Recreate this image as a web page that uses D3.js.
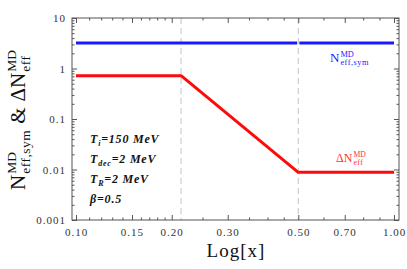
<!DOCTYPE html>
<html>
<head>
<meta charset="utf-8">
<script src="https://cdn.jsdelivr.net/npm/d3@7"></script>
<style>
  body { margin: 0; background: #fff; }
  svg text { font-family: "Liberation Serif"; }
</style>
</head>
<body>
<div id="chart"></div>
<script>
// data
const xTicks = [0.1, 0.15, 0.2, 0.3, 0.5, 0.7, 1.0];
const xTickLabels = ["0.10", "0.15", "0.20", "0.30", "0.50", "0.70", "1.00"];
const xMinor = [0.11, 0.12, 0.13, 0.14, 0.16, 0.17, 0.18, 0.19, 0.25, 0.35, 0.4, 0.45, 0.6, 0.8, 0.9];
const yTicks = [0.001, 0.01, 0.1, 1, 10];
const yTickLabels = ["0.001", "0.01", "0.1", "1", "10"];
const dashedX = [0.214, 0.5];

// N_eff,sym (drawn in two pieces, there is a small gap at x = 0.5)
const symA = [[0.1, 3.2], [0.496, 3.2]];
const symB = [[0.504, 3.2], [1.0, 3.2]];
// Delta N_eff
const deltaN = [[0.1, 0.72], [0.214, 0.72], [0.5, 0.0088], [1.0, 0.0088]];

const params = [
  { base: "T", sub: "i", rest: "=150 MeV" },
  { base: "T", sub: "dec", rest: "=2 MeV" },
  { base: "T", sub: "R", rest: "=2 MeV" },
  { base: "β=0.5", sub: "", rest: "" }
];

const serif = "Liberation Serif";
const width = 407;
const height = 269;
const frame = { left: 72, right: 399, top: 18, bottom: 220 };

const svg = d3.select("#chart").append("svg")
  .attr("width", width)
  .attr("height", height)
  .attr("font-family", serif);

const x = d3.scaleLog().domain([0.1, 1]).range([76, 394]);
const y = d3.scaleLog().domain([0.001, 10]).range([frame.bottom, frame.top]);

// minor y ticks: 2..9 in each decade
const yMinor = [];
[0.001, 0.01, 0.1, 1].forEach(d => {
  for (let k = 2; k <= 9; k++) yMinor.push(d * k);
});

const tickColor = "#555";

function styleAxis(g) {
  g.attr("font-family", serif);
  g.select(".domain").remove();
  g.selectAll("line").attr("stroke", tickColor);
  g.selectAll("text")
    .attr("fill", "#333")
    .attr("font-family", serif)
    .style("font-size", "11px")
    .style("letter-spacing", "1px");
}

// dashed verticals
svg.selectAll("line.dash")
  .data(dashedX)
  .join("line")
  .attr("class", "dash")
  .attr("x1", d => x(d))
  .attr("x2", d => x(d))
  .attr("y1", frame.top)
  .attr("y2", frame.bottom)
  .attr("stroke", "#c4c4c4")
  .attr("stroke-width", 1)
  .attr("stroke-dasharray", "6,4");

// major / minor ticks on all four sides
svg.append("g")
  .attr("transform", `translate(0,${frame.bottom})`)
  .call(d3.axisBottom(x).tickValues(xTicks).tickFormat((d, i) => xTickLabels[i]).tickSize(-5).tickPadding(8))
  .call(styleAxis);
svg.append("g")
  .attr("transform", `translate(0,${frame.bottom})`)
  .call(d3.axisBottom(x).tickValues(xMinor).tickFormat("").tickSize(-2.5))
  .call(styleAxis);
svg.append("g")
  .attr("transform", `translate(0,${frame.top})`)
  .call(d3.axisTop(x).tickValues(xTicks).tickFormat("").tickSize(-5))
  .call(styleAxis);
svg.append("g")
  .attr("transform", `translate(0,${frame.top})`)
  .call(d3.axisTop(x).tickValues(xMinor).tickFormat("").tickSize(-2.5))
  .call(styleAxis);

svg.append("g")
  .attr("transform", `translate(${frame.left},0)`)
  .call(d3.axisLeft(y).tickValues(yTicks).tickFormat((d, i) => yTickLabels[i]).tickSize(-5).tickPadding(6))
  .call(styleAxis);
svg.append("g")
  .attr("transform", `translate(${frame.left},0)`)
  .call(d3.axisLeft(y).tickValues(yMinor).tickFormat("").tickSize(-2.5))
  .call(styleAxis);
svg.append("g")
  .attr("transform", `translate(${frame.right},0)`)
  .call(d3.axisRight(y).tickValues(yTicks).tickFormat("").tickSize(-5))
  .call(styleAxis);
svg.append("g")
  .attr("transform", `translate(${frame.right},0)`)
  .call(d3.axisRight(y).tickValues(yMinor).tickFormat("").tickSize(-2.5))
  .call(styleAxis);

// frame
svg.append("rect")
  .attr("x", frame.left)
  .attr("y", frame.top)
  .attr("width", frame.right - frame.left)
  .attr("height", frame.bottom - frame.top)
  .attr("fill", "none")
  .attr("stroke", tickColor)
  .attr("stroke-width", 1);

const line = d3.line()
  .x(d => x(d[0]))
  .y(d => y(d[1]));

[symA, symB].forEach(seg => {
  svg.append("path")
    .datum(seg)
    .attr("fill", "none")
    .attr("stroke", "#1a1aff")
    .attr("stroke-width", 3)
    .attr("d", line);
});

svg.append("path")
  .datum(deltaN)
  .attr("fill", "none")
  .attr("stroke", "#ff0a0a")
  .attr("stroke-width", 3)
  .attr("stroke-linejoin", "round")
  .attr("d", line);

// base text with a superscript stacked over a subscript
function stackedLabel(g, x0, y0, base, sup, sub, size, color) {
  const t = g.append("text")
    .attr("x", x0).attr("y", y0)
    .attr("fill", color)
    .style("font-size", size + "px")
    .text(base);
  const w = t.node().getComputedTextLength();
  const small = size * 0.64;
  const s1 = g.append("text")
    .attr("x", x0 + w + 1).attr("y", y0 - size * 0.42)
    .attr("fill", color)
    .style("font-size", small + "px")
    .text(sup);
  const s2 = g.append("text")
    .attr("x", x0 + w + 1).attr("y", y0 + size * 0.22)
    .attr("fill", color)
    .style("font-size", small + "px")
    .style("letter-spacing", "0.5px")
    .text(sub);
  return x0 + w + 1 + Math.max(s1.node().getComputedTextLength(), s2.node().getComputedTextLength());
}

// curve labels
stackedLabel(svg.append("g"), 330, 62, "N", "MD", "eff,sym", 13, "#1a1aff");
stackedLabel(svg.append("g"), 336, 162, "ΔN", "MD", "eff", 12, "#ff3030");

// y axis title, rotated
const yt = svg.append("g");
const inner = yt.append("g");
let cx = stackedLabel(inner, 0, 0, "N", "MD", "eff,sym", 21, "#111");
const amp = inner.append("text")
  .attr("x", cx + 6).attr("y", 0)
  .attr("fill", "#111")
  .style("font-size", "21px")
  .text("&");
cx = cx + 6 + amp.node().getComputedTextLength() + 6;
cx = stackedLabel(inner, cx, 0, "ΔN", "MD", "eff", 21, "#111");
inner.attr("transform", `translate(${-cx / 2},0)`);
yt.attr("transform", "translate(25,120) rotate(-90)");

// x axis title
svg.append("text")
  .attr("x", 236)
  .attr("y", 257)
  .attr("text-anchor", "middle")
  .attr("fill", "#111")
  .style("font-size", "19px")
  .style("letter-spacing", "1px")
  .text("Log[x]");

// parameter box
params.forEach((p, i) => {
  const t = svg.append("text")
    .attr("x", 90)
    .attr("y", 143 + i * 20)
    .attr("fill", "#111")
    .style("font-size", "12px")
    .style("font-weight", "bold")
    .style("font-style", "italic")
    .style("letter-spacing", "0.8px");
  t.append("tspan").text(p.base);
  if (p.sub) {
    t.append("tspan").attr("dy", 3).style("font-size", "8px").text(p.sub);
    t.append("tspan").attr("dy", -3).text(p.rest);
  }
});
</script>
</body>
</html>
